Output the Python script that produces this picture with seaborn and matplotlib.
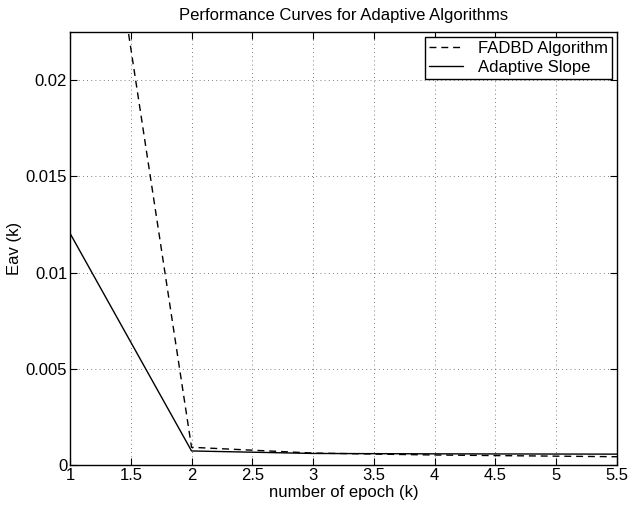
import matplotlib
matplotlib.use("Agg")
import matplotlib.pyplot as plt
import seaborn as sns
import pandas as pd

epochs = [1, 2, 3, 4, 5, 6]
fadbd = [0.0424, 0.00092, 0.00062, 0.00052, 0.00046, 0.00040]
adaptive = [0.01204, 0.00073, 0.00060, 0.00058, 0.00057, 0.00056]
series_names = ["FADBD Algorithm", "Adaptive Slope"]
x_ticks = [1, 1.5, 2, 2.5, 3, 3.5, 4, 4.5, 5, 5.5]
x_tick_labels = ["1", "1.5", "2", "2.5", "3", "3.5", "4", "4.5", "5", "5.5"]
y_ticks = [0, 0.005, 0.01, 0.015, 0.02]
y_tick_labels = ["0", "0.005", "0.01", "0.015", "0.02"]

df = pd.DataFrame({
    "epoch": epochs * 2,
    "eav": fadbd + adaptive,
    "series": [series_names[0]] * len(epochs) + [series_names[1]] * len(epochs),
})

sns.set_theme(style="white")
plt.rcParams["font.family"] = ["Liberation Sans", "DejaVu Sans"]
plt.rcParams["text.color"] = "black"
plt.rcParams["axes.labelcolor"] = "black"

FS = 12

fig = plt.figure(figsize=(6.33, 5.05), dpi=100)
ax = fig.add_axes([0.1106, 0.0792, 0.864, 0.8574])

sns.lineplot(data=df, x="epoch", y="eav", style="series", style_order=series_names,
             dashes={series_names[0]: (5, 3.5), series_names[1]: ""},
             color="black", linewidth=1.0, ax=ax, legend=True)

ax.set_xlim(1, 5.5)
ax.set_ylim(0, 0.0225)
ax.set_xticks(x_ticks)
ax.set_xticklabels(x_tick_labels)
ax.set_yticks(y_ticks)
ax.set_yticklabels(y_tick_labels)
ax.tick_params(direction="in", length=5, width=0.8, colors="black", labelsize=FS,
               top=True, right=True, bottom=True, left=True, pad=2)
ax.grid(True, linestyle=(0, (1, 4)), color="#555555", linewidth=0.6)
for s in ax.spines.values():
    s.set_color("black")
    s.set_linewidth(1.0)

ax.set_xlabel("number of epoch (k)", fontsize=FS, labelpad=1.5)
ax.set_ylabel("Eav (k)", fontsize=FS, labelpad=3)
ax.set_title("Performance Curves for Adaptive Algorithms", fontsize=FS, pad=9)

leg = ax.legend(loc="upper right", fontsize=FS, frameon=True, fancybox=False,
                edgecolor="black", framealpha=1, borderaxespad=0.3,
                handlelength=2.0, borderpad=0.25, labelspacing=0.2, handletextpad=0.9)
leg.get_frame().set_linewidth(1.0)
for line in leg.get_lines():
    line.set_color("black")
    line.set_linewidth(1.0)

fig.savefig("out.png", dpi=100)
